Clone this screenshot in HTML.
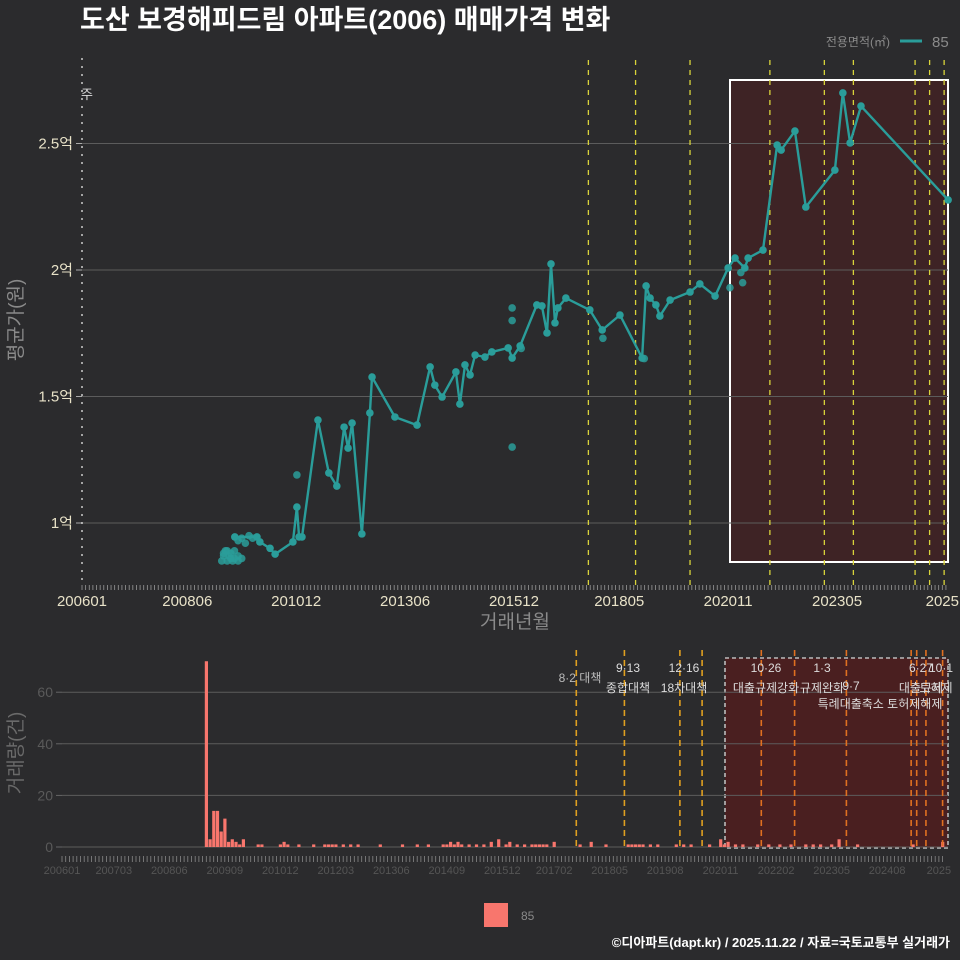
<!DOCTYPE html>
<html><head><meta charset="utf-8">
<style>
html,body{margin:0;padding:0;background:#2b2b2d;}
svg{display:block;font-family:"Liberation Sans","Noto Sans CJK KR",sans-serif;}
</style></head>
<body>
<svg id="c" width="960" height="960" viewBox="0 0 960 960"></svg>
<script>
// ---- data: top chart (month index since 2006-01, price in 억) ----
const lineMonths = [42.1,48.2,49.0,51.8,53.2,58.1,59.2,59.8,60.6,65.0,68.0,70.2,72.2,73.3,74.4,77.1,79.3,79.9,86.2,92.3,95.9,97.2,99.2,103.0,104.1,105.5,106.9,108.3,111.0,112.9,117.4,118.5,120.7,125.3,126.7,128.1,129.2,130.3,131.1,133.3,139.9,143.3,148.2,154.3,155.4,156.5,158.1,159.2,162.0,167.5,170.2,174.4,178.0,179.9,182.6,183.5,187.6,191.5,192.6,196.4,199.4,207.4,209.6,211.6,214.6,238.6];
const lineValues = [0.945,0.945,0.925,0.90,0.877,0.925,1.063,0.945,0.945,1.407,1.198,1.146,1.379,1.296,1.395,0.957,1.435,1.577,1.419,1.387,1.617,1.545,1.498,1.597,1.47,1.625,1.585,1.664,1.656,1.676,1.692,1.652,1.70,1.862,1.858,1.751,2.024,1.791,1.85,1.889,1.842,1.763,1.822,1.652,1.937,1.889,1.862,1.818,1.881,1.913,1.945,1.897,2.008,2.047,2.008,2.047,2.079,2.494,2.474,2.549,2.249,2.395,2.70,2.502,2.648,2.277];
const clusterMonths = [38.5,39,39.5,40,40.5,41,41.5,42,43,44,40,42,43,44,45,46,47,39,41,43,59.2,118.5,118.5,118.5,121,143.5,154.9,178.5,182,181.5];
const clusterValues = [0.85,0.87,0.89,0.85,0.87,0.88,0.85,0.86,0.85,0.86,0.89,0.89,0.93,0.94,0.92,0.95,0.94,0.88,0.86,0.87,1.19,1.30,1.85,1.80,1.69,1.73,1.65,1.93,1.95,1.99];
const topTickLabels = ["200601","200806","201012","201306","201512","201805","202011","202305","2025"];
const topTickMonths = [0,29,59,89,119,148,178,208,237];
const yTickValues = [1,1.5,2,2.5];
const yTickLabels = ["1억","1.5억","2억","2.5억"];
const policyMonthsTop = [139.5,152.5,167.5,189.5,204.5,212.5,229.5,233.5,237.5];
// ---- data: bottom chart ----
const barMonths = [39,40,41,42,43,44,45,46,47,48,49,53,54,59,60,61,64,68,71,72,73,74,76,78,80,86,92,96,99,103,104,105,106,107,108,110,112,114,116,118,120,121,123,125,127,128,129,130,131,133,140,143,147,153,154,155,156,157,159,161,166,168,170,175,178,179,180,182,184,188,191,194,197,201,203,205,208,210,215,230,238];
const barCounts = [72,3,14,14,6,11,2,3,2,1,3,1,1,1,2,1,1,1,1,1,1,1,1,1,1,1,1,1,1,1,1,2,1,2,1,1,1,1,2,3,1,2,1,1,1,1,1,1,1,2,1,2,1,1,1,1,1,1,1,1,1,1,1,1,3,1,2,1,1,1,1,1,1,1,1,1,1,3,1,1,2];
const botTickLabels = ["200601","200703","200806","200909","201012","201203","201306","201409","201512","201702","201805","201908","202011","202202","202305","202408","2025"];
const botTickMonths = [0,14,29,44,59,74,89,104,119,133,148,163,178,193,208,223,237];
const countTicks = [0,20,40,60];
const policyMonthsBot = [139,152,167,173,189,198,212,229.5,231,233.5,238];

const svg = document.getElementById('c');
const NS = 'http://www.w3.org/2000/svg';
function el(tag, attrs, parent){const e=document.createElementNS(NS,tag);for(const k in attrs)e.setAttribute(k,attrs[k]);(parent||svg).appendChild(e);return e;}
function txt(s, attrs, parent){const e=el('text',attrs,parent);e.textContent=s;return e;}

const xT = m => 82 + m*3.63;
const yT = v => 523 - (v-1)*253;
const xB = m => 62 + m*3.7;
const yB = c => 847 - c*2.58;

const t = txt('도산 보경해피드림 아파트(2006) 매매가격 변화',{x:80,y:29,fill:'#ffffff','font-size':27,'font-weight':'bold'});



const lg = el('g',{});


txt('전용면적(㎡)',{x:890,y:46,fill:'#8a8a8a','font-size':12,'text-anchor':'end'},lg);
el('line',{x1:900,y1:41,x2:922,y2:41,stroke:'#2a9d9a','stroke-width':3},lg);
txt('85',{x:932,y:47,fill:'#8a8a8a','font-size':15},lg);

// ----- top chart -----
const topG = el('g',{});


const hb = el('rect',{x:730,y:80,width:218,height:482,fill:'#3e2325',stroke:'#ffffff','stroke-width':2},topG);


yTickValues.forEach((v,i)=>{
  const g = el('line',{x1:82,x2:948,y1:yT(v),y2:yT(v),stroke:'#5c5c5c','stroke-width':1},topG);
  
  
  el('line',{x1:76,x2:82,y1:yT(v),y2:yT(v),stroke:'#aaa'},topG);
  const l = txt(yTickLabels[i],{x:73,y:yT(v)+5,fill:'#e8e2c8','font-size':15,'text-anchor':'end'},topG);
  
  
});
el('line',{x1:82,x2:82,y1:58,y2:585,stroke:'#cccccc','stroke-dasharray':'2,6','stroke-width':1.5},topG);
txt('주',{x:81,y:99,fill:'#dddddd','font-size':13},topG);
policyMonthsTop.forEach(m=>{
  const p = el('line',{x1:xT(m),x2:xT(m),y1:60,y2:585,stroke:'#d9d43a','stroke-dasharray':'5,5','stroke-width':1.3},topG);
  
  
});
for(let m=0;m<=238;m++){el('line',{x1:xT(m),x2:xT(m),y1:585,y2:590,stroke:'#999','stroke-width':0.8},topG);}
topTickLabels.forEach((s,i)=>{
  const l = txt(s,{x:xT(topTickMonths[i]),y:606,fill:'#e8e2c8','font-size':15,'text-anchor':'middle'},topG);
  
  
});
const xt = txt('거래년월',{x:515,y:628,fill:'#8a8a8a','font-size':19,'text-anchor':'middle'},topG);


const yt = txt('평균가(원)',{x:0,y:0,fill:'#8a8a8a','font-size':19,'text-anchor':'middle',transform:'translate(22,320) rotate(-90)'},topG);


clusterMonths.forEach((m,i)=>{
  const c = el('circle',{cx:xT(m),cy:yT(clusterValues[i]),r:3.8,fill:'#2a9d9a','fill-opacity':0.85},topG);
  
  
});
let d='';
lineMonths.forEach((m,i)=>{d+=(i?'L':'M')+xT(m).toFixed(1)+','+yT(lineValues[i]).toFixed(1);});
const pl = el('path',{d:d,fill:'none',stroke:'#2a9d9a','stroke-width':2.4},topG);


lineMonths.forEach((m,i)=>{
  const c = el('circle',{cx:xT(m),cy:yT(lineValues[i]),r:3.8,fill:'#2a9d9a'},topG);
  
  
});

// ----- bottom chart -----
const botG = el('g',{});


const bb = el('rect',{x:725,y:658,width:223,height:190,fill:'#4a1f20',stroke:'#bbbbbb','stroke-dasharray':'4,3','stroke-width':1.6},botG);


countTicks.forEach(v=>{
  el('line',{x1:62,x2:948,y1:yB(v),y2:yB(v),stroke:'#5c5c5c','stroke-width':1},botG);
  el('line',{x1:56,x2:62,y1:yB(v),y2:yB(v),stroke:'#666'},botG);
  const l = txt(String(v),{x:53,y:yB(v)+5,fill:'#5a5a5a','font-size':14,'text-anchor':'end'},botG);
  
  
});
const yt2 = txt('거래량(건)',{x:0,y:0,fill:'#6a6a6a','font-size':19,'text-anchor':'middle',transform:'translate(22,753) rotate(-90)'},botG);


barMonths.forEach((m,i)=>{
  const b = el('rect',{x:xB(m)-1.5,y:yB(barCounts[i]),width:3.2,height:yB(0)-yB(barCounts[i]),fill:'#f8766d'},botG);
  
  
});
policyMonthsBot.forEach((m,i)=>{
  const p = el('line',{x1:xB(m),x2:xB(m),y1:650,y2:850,stroke:(i<4?'#e0a020':'#e07020'),'stroke-dasharray':'6,4','stroke-width':1.6},botG);
  
  
});
for(let m=0;m<=238;m++){el('line',{x1:xB(m),x2:xB(m),y1:856,y2:862,stroke:'#888','stroke-width':0.8},botG);}
botTickLabels.forEach((s,i)=>{
  const l = txt(s,{x:xB(botTickMonths[i]),y:874,fill:'#555555','font-size':11,'text-anchor':'middle'},botG);
  
  
});
const ann = [
 ['8·2 대책',580,682,'#bbbbbb'],['9·13',628,672,'#dddddd'],['종합대책',628,692,'#dddddd'],
 ['12·16',684,672,'#dddddd'],['18차대책',684,692,'#dddddd'],
 ['10·26',766,672,'#dddddd'],['대출규제강화',766,692,'#dddddd'],['1·3',822,672,'#dddddd'],['규제완화',822,692,'#dddddd'],
 ['9·7',851,690,'#dddddd'],['특례대출축소 토허제해제',880,708,'#dddddd'],
 ['6·27',921,672,'#dddddd'],['10·1',941,672,'#dddddd'],['대출규제',921,692,'#dddddd'],['토허제',936,692,'#dddddd']
];
ann.forEach(a=>{
  const l = txt(a[0],{x:a[1],y:a[2],fill:a[3],'font-size':12,'text-anchor':'middle'},botG);
  
  
});
const lg2 = el('g',{});


el('rect',{x:484,y:903,width:24,height:24,fill:'#f8766d'},lg2);
txt('85',{x:521,y:920,fill:'#8a8a8a','font-size':12},lg2);
const cap = txt('©디아파트(dapt.kr) / 2025.11.22 / 자료=국토교통부 실거래가',{x:950,y:947,fill:'#ffffff','font-size':13,'font-weight':'bold','text-anchor':'end'});


</script>
</body></html>
